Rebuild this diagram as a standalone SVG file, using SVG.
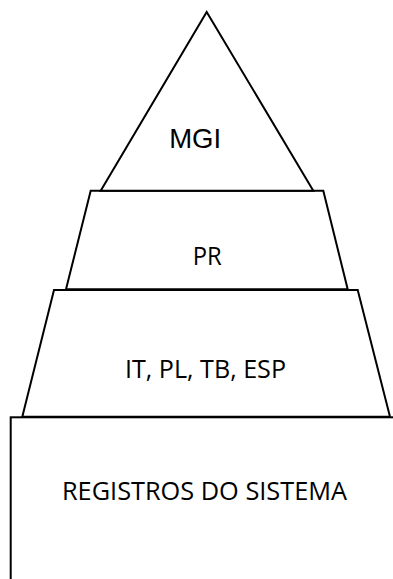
<svg xmlns="http://www.w3.org/2000/svg" width="393" height="579" viewBox="0 0 393 579">
<style>
.s{fill:#fff;stroke:#000;stroke-width:2;stroke-linejoin:miter}
.a{font-family:"Liberation Sans",Arial,sans-serif;fill:#000;text-anchor:middle}
.c{font-family:"Open Sans","Noto Sans",sans-serif;fill:#000;text-anchor:middle}
</style>
<rect width="393" height="579" fill="#fff"/>
<g id="registros">
<rect class="s" x="10.7" y="417.3" width="400" height="200"/>
<text class="c" x="204.5" y="499.5" font-size="26" textLength="285" lengthAdjust="spacingAndGlyphs">REGISTROS DO SISTEMA</text>
</g>
<g id="it">
<polygon class="s" points="54,290 357.7,290 390,416.7 22.3,416.7"/>
<text class="c" x="205.5" y="377.5" font-size="26" textLength="161" lengthAdjust="spacingAndGlyphs">IT, PL, TB, ESP</text>
</g>
<g id="pr">
<polygon class="s" points="90.7,190.7 323.3,190.7 347.7,289.3 66,289.3"/>
<text class="c" x="207.2" y="265" font-size="26" textLength="29" lengthAdjust="spacingAndGlyphs">PR</text>
</g>
<g id="mgi">
<polygon class="s" points="206.7,12 313.3,190.7 100.7,190.7"/>
<text class="a" x="195.2" y="148.3" font-size="28" textLength="52" lengthAdjust="spacingAndGlyphs">MGI</text>
</g>
<g id="connectors"/>
</svg>
